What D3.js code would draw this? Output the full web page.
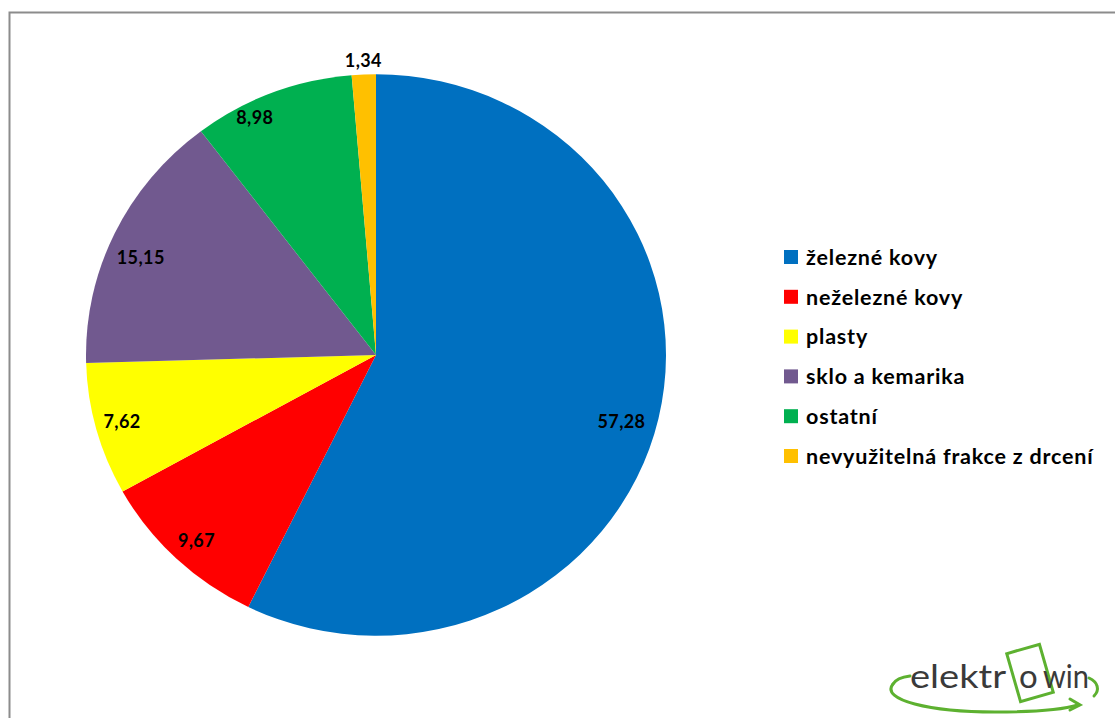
<!DOCTYPE html>
<html>
<head>
<meta charset="utf-8">
<script src="https://cdn.jsdelivr.net/npm/d3@7"></script>
<style>
  html, body { margin: 0; padding: 0; background: #fff; }
  svg { display: block; }
</style>
</head>
<body>
<svg id="chart" width="1115" height="718"></svg>
<script>
// ---- data ----
const categories = ["železné kovy", "neželezné kovy", "plasty", "sklo a kemarika", "ostatní", "nevyužitelná frakce z drcení"];
const values = [57.28, 9.67, 7.62, 15.15, 8.98, 1.34];
const valueLabels = ["57,28", "9,67", "7,62", "15,15", "8,98", "1,34"];
const colors = ["#0070C0", "#FF0000", "#FFFF00", "#71598F", "#00B050", "#FFC000"];

// ---- layout ----
const W = 1115, H = 718;
const cx = 376, cy = 355, R = 290, yScale = 0.968;
const labelNudge = [[0, 11], [-6, 9], [-11, 2], [-8, 8], [-31, -10], [0, -4]];

const svg = d3.select("#chart");

// outer frame
svg.append("rect")
  .attr("x", 9.5).attr("y", 12.5)
  .attr("width", W + 20).attr("height", H + 20)
  .attr("fill", "none").attr("stroke", "#8c8c8c").attr("stroke-width", 2);

const data = categories.map((c, i) => ({ cat: c, value: values[i], label: valueLabels[i], color: colors[i], i }));

const pie = d3.pie().sort(null).value(d => d.value).startAngle(0).endAngle(2 * Math.PI);
const arcs = pie(data);
const arc = d3.arc().innerRadius(0).outerRadius(R);

const g = svg.append("g").attr("transform", `translate(${cx},${cy}) scale(1,${yScale})`);
g.selectAll("path").data(arcs).enter().append("path")
  .attr("d", arc)
  .attr("fill", d => d.data.color);

// labels
const labelArcIn = d3.arc().innerRadius(252).outerRadius(252);
const labelArcOut = d3.arc().innerRadius(300).outerRadius(300);
svg.append("g").selectAll("text").data(arcs).enter().append("text")
  .attr("x", d => {
    const c = (d.data.value < 3 ? labelArcOut : labelArcIn).centroid(d);
    return cx + c[0] + labelNudge[d.data.i][0];
  })
  .attr("y", d => {
    const c = (d.data.value < 3 ? labelArcOut : labelArcIn).centroid(d);
    return cy + c[1] * yScale + labelNudge[d.data.i][1];
  })
  .attr("text-anchor", "middle")
  .attr("dy", "0.36em")
  .attr("font-family", "Lato, 'Open Sans', sans-serif")
  .attr("font-weight", "bold")
  .attr("font-size", 18)
  .attr("letter-spacing", 0.4)
  .attr("fill", "#000")
  .text(d => d.data.label);

// legend
const legendY = d3.scalePoint().domain(categories).range([257, 456]);
const leg = svg.append("g");
const items = leg.selectAll("g").data(data).enter().append("g")
  .attr("transform", d => `translate(784,${legendY(d.cat)})`);
items.append("rect")
  .attr("x", 0).attr("y", -7).attr("width", 14).attr("height", 14)
  .attr("fill", d => d.color);
items.append("text")
  .attr("x", 22).attr("y", 0).attr("dy", "0.36em")
  .attr("font-family", "Lato, 'Open Sans', sans-serif")
  .attr("font-weight", "bold")
  .attr("font-size", 21.5)
  .attr("letter-spacing", 0.8)
  .attr("fill", "#000")
  .text(d => d.cat);

// logo
const logo = svg.append("g");
const green = "#5DB130";
const stroke = p => logo.append("path").attr("d", p)
  .attr("fill", "none").attr("stroke", green).attr("stroke-width", 3).attr("stroke-linecap", "round");
stroke("M 893 684 C 880 700, 930 712, 995 712 C 1040 712, 1065 709, 1078 705");
stroke("M 1070 699 L 1080 705 L 1070 710");
stroke("M 893 684 C 896 679, 902 677, 910 676");
stroke("M 1089 678 C 1098 682, 1100 690, 1094 696");
logo.append("rect")
  .attr("x", -17).attr("y", -25).attr("width", 34).attr("height", 50)
  .attr("transform", "translate(1030,673) rotate(-16)")
  .attr("fill", "none").attr("stroke", green).attr("stroke-width", 3);
const lt = logo.append("text")
  .attr("y", 688)
  .attr("font-family", "Lato, 'Open Sans', sans-serif")
  .attr("font-size", 33)
  .attr("fill", "#3a3a3a");
lt.append("tspan").attr("x", 910).attr("textLength", 96).attr("lengthAdjust", "spacingAndGlyphs").text("elektr");
lt.append("tspan").attr("x", 1019).text("o");
lt.append("tspan").attr("x", 1043).attr("textLength", 46).attr("lengthAdjust", "spacingAndGlyphs").text("win");
</script>
</body>
</html>
